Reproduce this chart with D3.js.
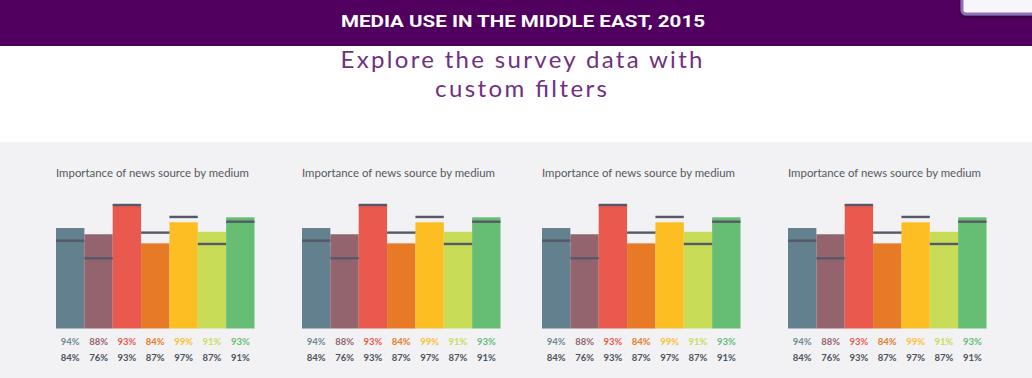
<!DOCTYPE html>
<html>
<head>
<meta charset="utf-8">
<script src="https://cdn.jsdelivr.net/npm/d3@7"></script>
<style>
html,body{margin:0;padding:0;background:#fff;overflow:hidden;}
svg{display:block;}
</style>
</head>
<body>
<svg id="chart" width="1032" height="378"></svg>
<script>
// ---- data ----
const headerTitle = "MEDIA USE IN THE MIDDLE EAST, 2015";
const subtitleLines = ["Explore the survey data with", "custom filters"];
const panelTitles = ["Importance of news source by medium","Importance of news source by medium","Importance of news source by medium","Importance of news source by medium"];
const media = ["m1","m2","m3","m4","m5","m6","m7"];
const mediaColors = ["#62808e","#93646d","#e9594d","#e67a27","#fcbe22","#c8dc58","#66bd74"];
const labelColors = ["#6f8895","#93646d","#e9594d","#e67a27","#fbbf33","#c8dc58","#66bd74"];
// bar heights read relative to the tallest bar (=100)
const barValues = [80.7, 75.7, 100, 68.4, 85.3, 77.7, 89.3];
// marker line positions on the same scale
const markerValues = [70.5, 56.4, 99.2, 77.0, 89.6, 67.9, 85.8];
const topLabels = ["94%","88%","93%","84%","99%","91%","93%"];
const bottomLabels = ["84%","76%","93%","87%","97%","87%","91%"];

// ---- layout ----
const svg = d3.select("#chart");
const W = 1032, H = 378;

// header
svg.append("rect").attr("x",0).attr("y",0).attr("width",W).attr("height",46).attr("fill","#52005f");
svg.append("rect").attr("x",0).attr("y",44).attr("width",W).attr("height",2).attr("fill","#4a0055");
svg.append("text").attr("x",523).attr("y",27).attr("text-anchor","middle")
  .attr("fill","#ffffff").attr("font-family","Roboto, 'DejaVu Sans', sans-serif")
  .attr("font-weight","700").attr("font-size",17)
  .attr("textLength",364).attr("lengthAdjust","spacingAndGlyphs")
  .text(headerTitle);

// top-right box (UI element)
const defs = svg.append("defs");
const f = defs.append("filter").attr("id","sh").attr("x","-20%").attr("y","-50%").attr("width","140%").attr("height","200%");
f.append("feDropShadow").attr("dx",0).attr("dy",1.5).attr("stdDeviation",1.5).attr("flood-color","#1a0024").attr("flood-opacity",0.8);
svg.append("rect").attr("x",962).attr("y",-12).attr("width",90).attr("height",26).attr("rx",4)
  .attr("fill","#f7f7fb").attr("stroke","#8b72b8").attr("stroke-width",3).attr("filter","url(#sh)");

// subtitle
const subLen = [362, 172];
svg.selectAll("text.sub").data(subtitleLines).join("text").attr("class","sub")
  .attr("x",(d,i)=> i===0 ? 521.5 : 521).attr("y",(d,i)=>67.5+i*29).attr("text-anchor","middle")
  .attr("fill","#70307f").attr("font-family","Lato, 'Open Sans', sans-serif").attr("font-weight","400")
  .attr("font-size",24).attr("textLength",(d,i)=>subLen[i]).attr("lengthAdjust","spacing")
  .text(d=>d);

// gray area
svg.append("rect").attr("x",0).attr("y",142).attr("width",W).attr("height",H-142).attr("fill","#f2f2f4");

const panelX = [56, 302, 542, 788];
const panelW = 198.5;
const x = d3.scaleBand().domain(media).range([0, panelW]).padding(0);
const y = d3.scaleLinear().domain([0, 100]).range([328.5, 204]);

panelX.forEach((px, p) => {
  const g = svg.append("g").attr("transform", `translate(${px},0)`);
  g.append("text").attr("x",0).attr("y",177).attr("fill","#555961")
    .attr("font-family","Lato, 'Open Sans', sans-serif").attr("font-size",10.5)
    .attr("textLength",193).attr("lengthAdjust","spacingAndGlyphs")
    .text(panelTitles[p]);
  g.selectAll("rect.bar").data(media).join("rect").attr("class","bar")
    .attr("x", d => x(d)).attr("width", x.bandwidth())
    .attr("y", (d,i) => y(barValues[i])).attr("height", (d,i) => y(0) - y(barValues[i]))
    .attr("fill", (d,i) => mediaColors[i]);
  g.selectAll("rect.mk").data(media).join("rect").attr("class","mk")
    .attr("x", d => x(d)).attr("width", x.bandwidth())
    .attr("y", (d,i) => y(markerValues[i]) - 1.2).attr("height", 2.4)
    .attr("fill", "#565a68");
  g.selectAll("text.t1").data(media).join("text").attr("class","t1")
    .attr("x", d => x(d) + x.bandwidth()/2).attr("y", 344.5).attr("text-anchor","middle")
    .attr("font-family","Lato, 'Open Sans', sans-serif").attr("font-weight","700").attr("font-size",9.5)
    .attr("fill",(d,i)=>labelColors[i]).text((d,i)=>topLabels[i]);
  g.selectAll("text.t2").data(media).join("text").attr("class","t2")
    .attr("x", d => x(d) + x.bandwidth()/2).attr("y", 361).attr("text-anchor","middle")
    .attr("font-family","Lato, 'Open Sans', sans-serif").attr("font-weight","700").attr("font-size",9.5)
    .attr("fill","#4d515c").text((d,i)=>bottomLabels[i]);
});
</script>
</body>
</html>
